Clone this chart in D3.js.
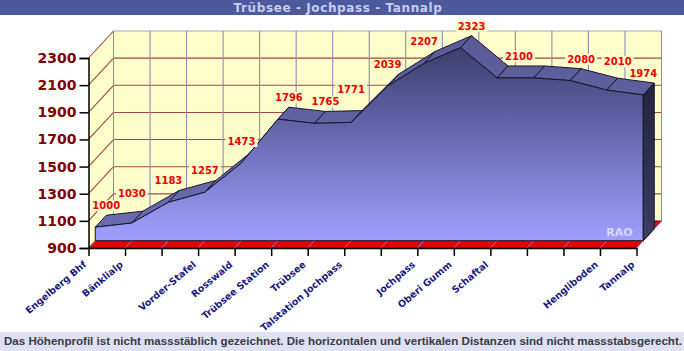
<!DOCTYPE html>
<html><head><meta charset="utf-8">
<script src="https://cdn.jsdelivr.net/npm/d3@7"></script>
<style>
html,body{margin:0;padding:0;background:#fff;}
svg{display:block;}
</style></head>
<body>
<svg id="chart" width="684" height="351"></svg>
<script>
const categories = ["Engelberg Bhf","Bänklialp","","Vorder-Stafel","Rosswald","Trübsee Station","Trübsee","Talstation Jochpass","","Jochpass","Oberi Gumm","Schaftal","","","Hengliboden","Tannalp"];
const elevations = [1000,1030,1183,1257,1473,1796,1765,1771,2039,2207,2323,2100,2100,2080,2010,1974];
const valueLabels = ["1000","1030","1183","1257","1473","1796","1765","1771","2039","2207","2323","2100","","2080","2010","1974"];
const yTicks = [900,1100,1300,1500,1700,1900,2100,2300];
const titleText = "Trübsee - Jochpass - Tannalp";
const footerText = "Das Höhenprofil ist nicht massstäblich gezeichnet. Die horizontalen und vertikalen Distanzen sind nicht massstabsgerecht.";
const brandText = "RAO";

const svg = d3.select("#chart");
const idx = d3.range(elevations.length);
const x = d3.scalePoint().domain(idx).range([88.5, 636.5]);
const y = d3.scaleLinear().domain([900, 2300]).range([248, 58]);
const D = {dx: 25, dy: -27};          // full depth of the 3D box
const fF = 0.27, fB = 0.71;            // series front / back depth fractions
const fx = D.dx*fF, fy = D.dy*fF, bx = D.dx*fB, by = D.dy*fB;
const x0 = x(0), xN = x(idx.length-1), yB = y(900), yT = y(2300);

const defs = svg.append("defs");
const g1 = defs.append("linearGradient").attr("id","front").attr("gradientUnits","userSpaceOnUse")
  .attr("x1",0).attr("y1",yT+D.dy).attr("x2",0).attr("y2",yB+fy);
g1.append("stop").attr("offset",0).attr("stop-color","#363660");
g1.append("stop").attr("offset",0.4).attr("stop-color","#5e5ea2");
g1.append("stop").attr("offset",1).attr("stop-color","#a0a0ff");
const g2 = defs.append("linearGradient").attr("id","top").attr("gradientUnits","userSpaceOnUse")
  .attr("x1",0).attr("y1",yT+D.dy).attr("x2",0).attr("y2",yB+fy);
g2.append("stop").attr("offset",0).attr("stop-color","#5a5a98");
g2.append("stop").attr("offset",1).attr("stop-color","#6c6cb0");
const g3 = defs.append("linearGradient").attr("id","side").attr("x1",0).attr("y1",0).attr("x2",0).attr("y2",1);
g3.append("stop").attr("offset",0).attr("stop-color","#24243c");
g3.append("stop").attr("offset",1).attr("stop-color","#3c3c66");

const pts = a => a.map(p => p.join(",")).join(" ");

// walls
svg.append("polygon").attr("points", pts([[x0,yB],[x0,yT],[x0+D.dx,yT+D.dy],[x0+D.dx,yB+D.dy]]))
  .attr("fill","#ffffcc");
svg.append("rect").attr("x",x0+D.dx).attr("y",yT+D.dy).attr("width",xN-x0).attr("height",yB-yT)
  .attr("fill","#ffffcc").attr("stroke","#a8a8a8").attr("stroke-width",1);

// horizontal gridlines (back wall + left wall)
yTicks.forEach(v => {
  const yy = y(v);
  svg.append("line").attr("x1",x0).attr("y1",yy).attr("x2",x0+D.dx).attr("y2",yy+D.dy)
    .attr("stroke","#a04646").attr("stroke-width",1.1);
  if (v > 900 && v < 2300)
    svg.append("line").attr("x1",x0+D.dx).attr("y1",yy+D.dy).attr("x2",xN+D.dx).attr("y2",yy+D.dy)
      .attr("stroke","#a04646").attr("stroke-width",1.1);
});
// vertical gridlines on back wall
idx.forEach(i => {
  svg.append("line").attr("x1",x(i)+D.dx).attr("y1",yT+D.dy).attr("x2",x(i)+D.dx).attr("y2",yB+D.dy)
    .attr("stroke","#8c8cb2").attr("stroke-width",1.1);
});

// floor
svg.append("polygon").attr("points", pts([[x0,yB],[xN,yB],[xN+D.dx,yB+D.dy],[x0+D.dx,yB+D.dy]]))
  .attr("fill","#e20000").attr("stroke","#5a0000").attr("stroke-width",0.8);
idx.forEach(i => {
  svg.append("line").attr("x1",x(i)).attr("y1",yB).attr("x2",x(i)+D.dx).attr("y2",yB+D.dy)
    .attr("stroke","#8a8adc").attr("stroke-width",0.9);
});

// series
const F = idx.map(i => [x(i)+fx, y(elevations[i])+fy]);
const B = idx.map(i => [x(i)+bx, y(elevations[i])+by]);
const n = idx.length;
for (let i = 0; i < n-1; i++) {
  svg.append("polygon").attr("points", pts([F[i],F[i+1],B[i+1],B[i]]))
    .attr("fill","url(#top)").attr("stroke","#15152a").attr("stroke-width",1).attr("stroke-linejoin","round");
}
svg.append("polygon").attr("points", pts([...F, [x(n-1)+fx, yB+fy], [x(0)+fx, yB+fy]]))
  .attr("fill","url(#front)").attr("stroke","#15152a").attr("stroke-width",1).attr("stroke-linejoin","round");
svg.append("polygon").attr("points", pts([F[n-1],B[n-1],[x(n-1)+bx,yB+by],[x(n-1)+fx,yB+fy]]))
  .attr("fill","url(#side)").attr("stroke","#15152a").attr("stroke-width",1).attr("stroke-linejoin","round");

// value labels (placed above the back edge, with simple collision avoidance)
const lab = svg.append("g").attr("font-family","'DejaVu Sans', Verdana, sans-serif")
  .attr("font-weight","bold").attr("font-size","10px");
const placed = [];
idx.forEach(i => {
  const t = valueLabels[i];
  if (!t) return;
  const [bxp, byp] = B[i];
  const rise = i < n-1 ? B[i][1]-B[i+1][1] : 0;
  const drop = i > 0 ? B[i][1]-B[i-1][1] : 0;
  let anchor = "middle", tx = bxp;
  if (i === n-1 || rise > 10) { anchor = "end"; tx = bxp + 3; }
  else if (drop > 10) { anchor = "start"; tx = bxp - 3; }
  const g = lab.append("g");
  const rect = g.append("rect").attr("fill","#ffffcc");
  const txt = g.append("text").attr("x",tx).attr("y",byp - 6).attr("text-anchor",anchor)
    .attr("fill","#ee0000").text(t);
  const bb = txt.node().getBBox();
  placed.push({i, g, rect, txt, vy: byp, box: {x: bb.x-2, y: bb.y, w: bb.width+4, h: bb.height}, dy: 0});
});
const overlap = (a, b) => a.box.x < b.box.x + b.box.w && b.box.x < a.box.x + a.box.w &&
  a.box.y + a.dy < b.box.y + b.dy + b.box.h && b.box.y + b.dy < a.box.y + a.dy + a.box.h;
for (let k = 1; k < placed.length; k++) {
  const a = placed[k-1], b = placed[k];
  if (overlap(a, b)) {
    const up = a.vy < b.vy ? a : b, other = up === a ? b : a;
    up.dy = (other.box.y + other.dy) - (up.box.y + up.box.h) - 1;
  }
}
placed.forEach(p => {
  p.g.attr("transform", `translate(0,${p.dy})`);
  p.rect.attr("x",p.box.x).attr("y",p.box.y).attr("width",p.box.w).attr("height",p.box.h);
});

// axes
const ya = svg.append("g").attr("transform",`translate(${x0},0)`)
  .call(d3.axisLeft(y).tickValues(yTicks).tickSize(9).tickPadding(3).tickFormat(d3.format("d")));
ya.select(".domain").attr("stroke","#000").attr("stroke-width",1.5);
ya.selectAll(".tick line").attr("stroke","#000").attr("stroke-width",1.5);
ya.selectAll(".tick text").attr("fill","#800000").attr("font-size","14px").attr("font-weight","bold")
  .attr("font-family","'DejaVu Sans', Verdana, sans-serif");

const xa = svg.append("g").attr("transform",`translate(0,${yB})`)
  .call(d3.axisBottom(x).tickSize(8).tickSizeOuter(0).tickFormat(i => categories[i]));
xa.select(".domain").attr("stroke","#000").attr("stroke-width",1.5);
xa.selectAll(".tick line").attr("stroke","#000").attr("stroke-width",1.5);
xa.selectAll(".tick text").attr("fill","#1a1a80").attr("font-size","9.5px").attr("font-weight","bold")
  .attr("font-family","'DejaVu Sans', Verdana, sans-serif")
  .attr("text-anchor","end").attr("x",0).attr("y",0).attr("dy","0.35em")
  .attr("transform","translate(-4,15) rotate(-40)");

// brand
svg.append("text").attr("x",x(n-1)-4).attr("y",yB+fy-5).attr("text-anchor","end")
  .attr("font-family","'DejaVu Sans', Verdana, sans-serif").attr("font-weight","bold").attr("font-size","11px")
  .attr("fill","#d8d8ff").text(brandText);

// title bar
svg.append("rect").attr("x",0).attr("y",0).attr("width",684).attr("height",15).attr("fill","#4c5a9c");
svg.append("text").attr("x",338).attr("y",11.5).attr("text-anchor","middle")
  .attr("font-family","'DejaVu Sans', Verdana, sans-serif").attr("font-weight","bold").attr("font-size","12px")
  .attr("letter-spacing","0.6px").attr("fill","#c8ccf4").text(titleText);

// footer
svg.append("rect").attr("x",0).attr("y",332).attr("width",684).attr("height",19).attr("fill","#dfe0f2");
svg.append("text").attr("x",4).attr("y",344.5)
  .attr("font-family","'Liberation Sans', Arial, sans-serif").attr("font-weight","bold").attr("font-size","11px")
  .attr("textLength",678).attr("lengthAdjust","spacingAndGlyphs").attr("fill","#3a3a44").text(footerText);
</script>
</body></html>
